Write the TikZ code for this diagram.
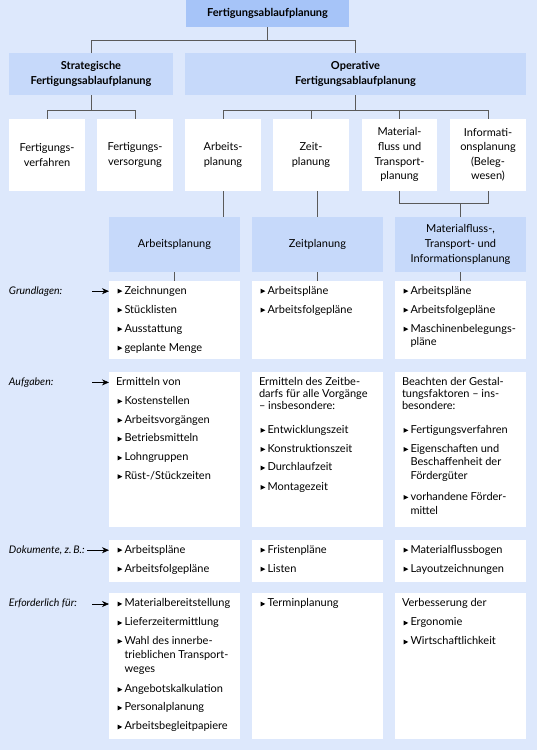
\documentclass[tikz,border=0pt]{standalone}
\usepackage{fontspec}
\setmainfont{Lato}
\usetikzlibrary{arrows.meta}
\definecolor{bg}{RGB}{221,232,252}
\definecolor{topc}{RGB}{166,196,248}
\definecolor{midc}{RGB}{198,217,250}
\definecolor{linec}{RGB}{90,90,90}
\newcounter{tn}
\newcommand\bx[7]{\node[#6, anchor=north west, minimum width={#4-#2}, minimum height={#5-#3}] (#1) at (#2,#3) {#7};}
\newcommand\li[3]{\fill[bul] (#1,#2-0.4) -- (#1,#2-5.3) -- (#1+4.8,#2-2.85) -- cycle;
  \stepcounter{tn}\node[lt] (t\arabic{tn}) at (#1+7,#2) {#3};}
\newcommand\pl[3]{\stepcounter{tn}\node[lt] (t\arabic{tn}) at (#1,#2) {#3};}
\begin{document}
\begin{tikzpicture}[x=1pt,y=-1pt,
  every node/.style={inner sep=0pt, outer sep=0pt},
  topbox/.style={fill=topc, font=\bfseries\fontsize{11}{14.8}\selectfont, align=center},
  midboxb/.style={fill=midc, font=\bfseries\fontsize{11}{15.4}\selectfont, align=center},
  midbox/.style={fill=midc, font=\fontsize{11}{14.8}\selectfont, align=center},
  whitebox/.style={fill=white, font=\fontsize{11}{14.6}\selectfont, align=center},
  listbox/.style={fill=white},
  conn/.style={draw=linec, line width=0.8pt},
  arr/.style={draw=black, line width=0.6pt, -{Stealth[length=7pt,width=6pt]}},
  lt/.style={anchor=base west, font=\fontsize{11}{13}\selectfont},
  lab/.style={anchor=base west, font=\itshape\fontsize{10.5}{13}\selectfont},
  bul/.style={fill=black}]
\fill[bg] (0,0) rectangle (537,750);
\useasboundingbox (0,0) rectangle (537,750);
% level boxes
\bx{top}{186}{0}{349}{27}{topbox}{Fertigungsablaufplanung}
\bx{str}{9}{53}{173}{95}{midboxb}{Strategische\\Fertigungsablaufplanung}
\bx{op}{185}{53}{526}{95}{midboxb}{Operative\\Fertigungsablaufplanung}
\bx{fv}{9}{118.6}{85}{191}{whitebox}{Fertigungs-\\verfahren}
\bx{fs}{97}{118.6}{173}{191}{whitebox}{Fertigungs-\\versorgung}
\bx{ar}{185}{118.6}{261}{191}{whitebox}{Arbeits-\\planung}
\bx{ze}{273}{118.6}{349}{191}{whitebox}{Zeit-\\planung}
\bx{ma}{362}{118.6}{437}{191}{whitebox}{Material-\\fluss und\\Transport-\\planung}
\bx{inf}{450}{118.6}{526}{191}{whitebox}{Informati-\\onsplanung\\(Beleg-\\wesen)}
\bx{ap}{109}{217}{240}{272}{midbox}{Arbeitsplanung}
\bx{zp}{252}{217}{383}{272}{midbox}{Zeitplanung}
\bx{mp}{395}{217}{526}{272}{midbox}{Materialfluss-,\\Transport- und\\Informationsplanung}
% list boxes
\bx{g1}{109}{281}{240}{359}{listbox}{}
\bx{g2}{252}{281}{383}{359}{listbox}{}
\bx{g3}{395}{281}{526}{359}{listbox}{}
\bx{a1}{109}{372}{240}{527}{listbox}{}
\bx{a2}{252}{372}{383}{527}{listbox}{}
\bx{a3}{395}{372}{526}{527}{listbox}{}
\bx{d1}{109}{539.6}{240}{582}{listbox}{}
\bx{d2}{252}{539.6}{383}{582}{listbox}{}
\bx{d3}{395}{539.6}{526}{582}{listbox}{}
\bx{e1}{109}{593.3}{240}{739}{listbox}{}
\bx{e2}{252}{593.3}{383}{739}{listbox}{}
\bx{e3}{395}{593.3}{526}{739}{listbox}{}
% connectors
\draw[conn] (top.south) -- ++(0,13);
\draw[conn] (str.north) -- ++(0,-13) -| (op.north);
\draw[conn] (str.south) -- ++(0,15);
\draw[conn] (fv.north) -- ++(0,-8.6) -| (fs.north);
\draw[conn] (op.south) -- ++(0,15);
\draw[conn] (ar.north) -- ++(0,-8.6) -| (inf.north);
\draw[conn] (ze.north) -- ++(0,-8.6);
\draw[conn] (ma.north) -- ++(0,-8.6);
\draw[conn] (ar.south) -- (ar.south |- ap.north);
\draw[conn] (ze.south -| zp.north) -- (zp.north);
\draw[conn] (ma.south) -- ++(0,12.5) -| (inf.south);
\draw[conn] (mp.north) -- ++(0,-13.5);
\draw[conn] (ap.south) -- (g1.north);
\draw[conn] (zp.south) -- (g2.north);
\draw[conn] (mp.south) -- (g3.north);
% row labels and arrows
\node[lab] (lg) at (9,294) {Grundlagen:};
\node[lab] (la) at (9,385.2) {Aufgaben:};
\node[lab] (ld) at (9,553) {Dokumente, z.\,B.:};
\node[lab] (le) at (9,606.8) {Erforderlich für:};
\coordinate (ga) at (92,291.2);
\coordinate (aa) at (92,382.4);
\coordinate (da) at (87,550.2);
\coordinate (ea) at (92,604);
\draw[arr] (ga) -- (ga -| g1.west);
\draw[arr] (aa) -- (aa -| a1.west);
\draw[arr] (da) -- (da -| d1.west);
\draw[arr] (ea) -- (ea -| e1.west);
% Grundlagen
\li{117.5}{294}{Zeichnungen}
\li{117.5}{313}{Stücklisten}
\li{117.5}{332}{Ausstattung}
\li{117.5}{351}{geplante Menge}
\li{260.5}{294}{Arbeitspläne}
\li{260.5}{313}{Arbeitsfolgepläne}
\li{403.5}{294}{Arbeitspläne}
\li{403.5}{313}{Arbeitsfolgepläne}
\li{403.5}{332}{Maschinenbelegungs-}
\pl{410.5}{345.5}{pläne}
% Aufgaben
\pl{116}{385.2}{Ermitteln von}
\li{117.5}{404.2}{Kostenstellen}
\li{117.5}{423.2}{Arbeitsvorgängen}
\li{117.5}{441.8}{Betriebsmitteln}
\li{117.5}{460.8}{Lohngruppen}
\li{117.5}{479.5}{Rüst-/Stückzeiten}
\pl{259}{385.2}{Ermitteln des Zeitbe-}
\pl{259}{397.5}{darfs für alle Vorgänge}
\pl{259}{409.8}{– insbesondere:}
\li{260.5}{433.2}{Entwicklungszeit}
\li{260.5}{452.2}{Konstruktionszeit}
\li{260.5}{470.8}{Durchlaufzeit}
\li{260.5}{490.2}{Montagezeit}
\pl{402}{385.2}{Beachten der Gestal-}
\pl{402}{397.5}{tungsfaktoren – ins-}
\pl{402}{409.8}{besondere:}
\li{403.5}{433.2}{Fertigungsverfahren}
\li{403.5}{452.2}{Eigenschaften und}
\pl{410.5}{465.8}{Beschaffenheit der}
\pl{410.5}{479.8}{Fördergüter}
\li{403.5}{500.2}{vorhandene Förder-}
\pl{410.5}{514.2}{mittel}
% Dokumente
\li{117.5}{553}{Arbeitspläne}
\li{117.5}{572}{Arbeitsfolgepläne}
\li{260.5}{553}{Fristenpläne}
\li{260.5}{572}{Listen}
\li{403.5}{553}{Materialflussbogen}
\li{403.5}{572}{Layoutzeichnungen}
% Erforderlich
\li{117.5}{606.8}{Materialbereitstellung}
\li{117.5}{625.8}{Lieferzeitermittlung}
\li{117.5}{644.2}{Wahl des innerbe-}
\pl{124.5}{658.2}{trieblichen Transport-}
\pl{124.5}{672.5}{weges}
\li{117.5}{692.5}{Angebotskalkulation}
\li{117.5}{710.8}{Personalplanung}
\li{117.5}{729.8}{Arbeitsbegleitpapiere}
\li{260.5}{606.8}{Terminplanung}
\pl{402}{606.8}{Verbesserung der}
\li{403.5}{625.8}{Ergonomie}
\li{403.5}{644.8}{Wirtschaftlichkeit}
\end{tikzpicture}
\end{document}
